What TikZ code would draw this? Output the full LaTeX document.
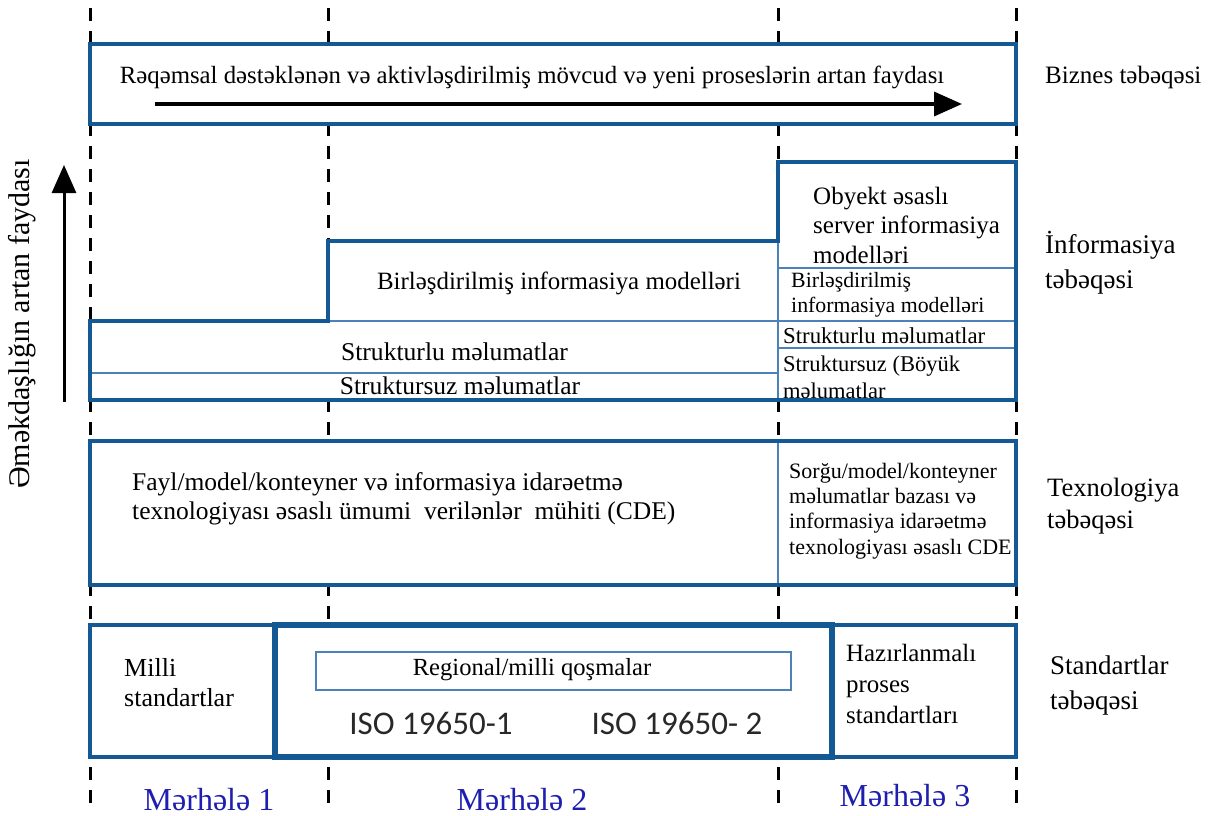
\documentclass[tikz,border=0pt]{standalone}
\usepackage{fontspec}
\setmainfont{Liberation Serif}
\newfontfamily\isofont{Carlito}
\usetikzlibrary{arrows.meta}
\definecolor{boxblue}{RGB}{20,88,148}
\definecolor{lineblue}{RGB}{75,130,185}
\definecolor{stageblue}{RGB}{30,30,175}
\begin{document}
\begin{tikzpicture}[x=1pt,y=-1pt,
  thickbox/.style={draw=boxblue,line width=3.5pt,fill=white,line join=miter},
  thinline/.style={draw=lineblue,line width=1.4pt},
  guide/.style={draw=black,line width=3pt,dash pattern=on 13pt off 10pt},
  txt/.style={font=\fontsize{23}{29}\selectfont,inner sep=0pt,align=left},
  lbl/.style={font=\fontsize{27}{35}\selectfont,inner sep=0pt,align=left,anchor=west},
  stage/.style={font=\fontsize{32}{36}\selectfont,inner sep=0pt,text=stageblue},
  iso/.style={font=\isofont\fontsize{33}{38}\selectfont,inner sep=0pt,text={rgb,255:red,40;green,40;blue,40}},
  bigarrow/.style={line width=3.5pt,-{Triangle[length=28pt,width=24pt]}}
]
\useasboundingbox (0,0) rectangle (1231,816);
% guide lines
\foreach \n/\x in {a/90,b/328,c/778,d/1016}{
  \coordinate (g\n top) at (\x,8);
  \coordinate (g\n bot) at (\x,812);
  \draw[guide] (g\n top) -- (g\n bot);
}
% business layer
\draw[thickbox] (90,44) rectangle (1016,124);
\node[txt,font=\fontsize{24.8}{28}\selectfont] (biz) at (532,77) {Rəqəmsal dəstəklənən və aktivləşdirilmiş mövcud və yeni proseslərin artan faydası};
\coordinate (bas) at (155,104);
\coordinate (bae) at (962,104);
\draw[bigarrow] (bas) -- (bae);
\node[lbl,font=\fontsize{25}{30}\selectfont] (bizl) at (1045,77) {Biznes təbəqəsi};
% vertical arrow
\coordinate (vas) at (64,402);
\coordinate (vae) at (64,165);
\draw[bigarrow,line width=3pt] (vas) -- (vae);
\node[txt,font=\fontsize{30}{34}\selectfont,rotate=90] (coll) at (22,324) {Əməkdaşlığın artan faydası};
% information layer
\draw[thickbox] (90,321) -- (328,321) -- (328,241) -- (778,241) -- (778,162) -- (1016,162) -- (1016,400) -- (90,400) -- cycle;
\draw[thinline] (328,321) -- (1014,321);
\draw[thinline] (92,373) -- (778,373);
\draw[thinline] (778,243) -- (778,398);
\draw[thinline] (778,268) -- (1014,268);
\draw[thinline] (778,348) -- (1014,348);
\draw[draw=boxblue,line width=3.5pt] (90,321) -- (328,321) -- (328,241) -- (778,241) -- (778,162) -- (1016,162) -- (1016,400) -- (90,400) -- cycle;
\node[txt,font=\fontsize{24.9}{29}\selectfont] (bim) at (559,283) {Birləşdirilmiş informasiya modelləri};
\node[txt,font=\fontsize{25.6}{29}\selectfont] (sd) at (454.5,352) {Strukturlu məlumatlar};
\node[txt,font=\fontsize{25.5}{29}\selectfont] (usd) at (460,386) {Struktursuz məlumatlar};
\node[txt,anchor=west,font=\fontsize{25}{29.5}\selectfont] (obj) at (813,225) {Obyekt əsaslı\\server informasiya\\modelləri};
\node[txt,anchor=west,font=\fontsize{21.8}{25}\selectfont] (bim2) at (791,294.5) {Birləşdirilmiş\\informasiya modelləri};
\node[txt,anchor=west,font=\fontsize{22.8}{25}\selectfont] (sd2) at (783,336) {Strukturlu məlumatlar};
\node[txt,anchor=west,font=\fontsize{22.5}{27}\selectfont] (usd2) at (783,377.5) {Struktursuz (Böyük\\məlumatlar};
\node[lbl] (infl) at (1045,262.5) {İnformasiya\\təbəqəsi};
% technology layer
\draw[thickbox] (90,441) rectangle (1016,585);
\draw[thinline] (778,443) -- (778,583);
\node[txt,anchor=west,font=\fontsize{25.5}{29}\selectfont] (cde1) at (132,498.5) {Fayl/model/konteyner və informasiya idarəetmə\\texnologiyası əsaslı ümumi~ verilənlər~ mühiti (CDE)};
\node[txt,anchor=west,font=\fontsize{22}{25.3}\selectfont] (cde2) at (789,511) {Sorğu/model/konteyner\\məlumatlar bazası və\\informasiya idarəetmə\\texnologiyası əsaslı CDE};
\node[lbl,font=\fontsize{26.5}{32}\selectfont] (tecl) at (1047,506) {Texnologiya\\təbəqəsi};
% standards layer
\draw[thickbox] (90,625) rectangle (1016,757);
\draw[draw=boxblue,line width=6pt] (275,625) rectangle (832,757);
\draw[thinline,line width=1.2pt] (316,652) rectangle (791,690);
\node[txt,font=\fontsize{24.6}{26}\selectfont] (reg) at (532,670) {Regional/milli qoşmalar};
\node[iso] (iso1) at (431,723) {ISO 19650-1};
\node[iso] (iso2) at (677,723) {ISO 19650- 2};
\node[txt,anchor=west,font=\fontsize{26}{30}\selectfont] (milli) at (124,683) {Milli\\standartlar};
\node[txt,anchor=west,font=\fontsize{24.9}{31}\selectfont] (haz) at (846,684) {Hazırlanmalı\\proses\\standartları};
\node[lbl] (stdl) at (1050,685.5) {Standartlar\\təbəqəsi};
% stages
\node[stage] (m1) at (209,800) {Mərhələ 1};
\node[stage] (m2) at (522,800) {Mərhələ 2};
\node[stage] (m3) at (905,796) {Mərhələ 3};
\end{tikzpicture}
\end{document}
